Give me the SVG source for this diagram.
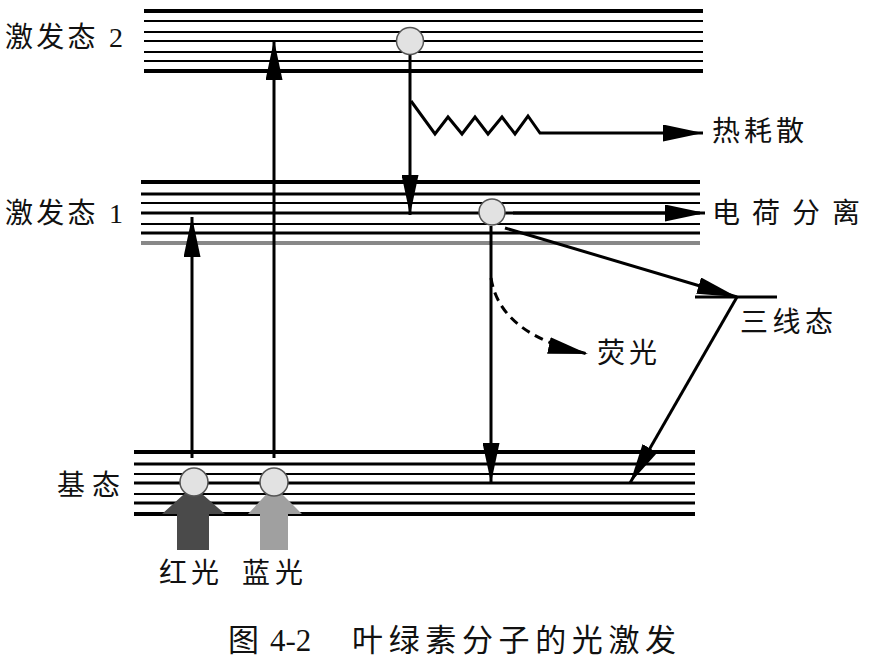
<svg xmlns="http://www.w3.org/2000/svg" width="896" height="666" viewBox="0 0 896 666">
<style>
.t{font-family:"Liberation Serif","Noto Sans CJK SC",serif;fill:#111;font-size:28px}
.cap{font-size:31px}
.thick{stroke:#000;stroke-width:4}
.mid{stroke:#000;stroke-width:3}
.thin{stroke:#000;stroke-width:2}
.conn{stroke:#000;stroke-width:3;fill:none}
.dot{fill:#e2e2e2;stroke:#555;stroke-width:1.5}
</style>
<defs>
<marker id="ah" viewBox="0 0 40 17" refX="40" refY="8.5" markerWidth="40" markerHeight="17" markerUnits="userSpaceOnUse" orient="auto">
<path d="M0,0 L40,8.5 L0,17 z" fill="#000"/>
</marker>
</defs>
<rect width="896" height="666" fill="#fff"/>
<g id="excited2">
<line class="thick" x1="144" y1="11" x2="703" y2="11"/>
<line class="thin" x1="144" y1="21" x2="703" y2="21"/>
<line class="thin" x1="144" y1="32" x2="703" y2="32"/>
<line class="thin" x1="144" y1="41" x2="703" y2="41"/>
<line class="thin" x1="144" y1="52" x2="703" y2="52"/>
<line class="thin" x1="144" y1="61" x2="703" y2="61"/>
<line class="thick" x1="144" y1="71" x2="703" y2="71"/>
<text class="t" x="5" y="47" textLength="118">激发态 2</text>
</g>
<g id="excited1">
<line class="thick" x1="141" y1="182" x2="700" y2="182"/>
<line class="mid" x1="141" y1="194" x2="700" y2="194"/>
<line class="thin" x1="141" y1="203" x2="700" y2="203"/>
<line class="mid" x1="141" y1="213" x2="700" y2="213"/>
<line class="thin" x1="141" y1="224" x2="700" y2="224"/>
<line class="mid" x1="141" y1="233" x2="700" y2="233"/>
<line stroke="#888" stroke-width="4" x1="141" y1="243" x2="700" y2="243"/>
<text class="t" x="5" y="223" textLength="118">激发态 1</text>
</g>
<g id="ground">
<line class="thick" x1="134" y1="452" x2="695" y2="452"/>
<line class="mid" x1="134" y1="464" x2="695" y2="464"/>
<line class="thin" x1="134" y1="474" x2="695" y2="474"/>
<line class="mid" x1="134" y1="483" x2="695" y2="483"/>
<line class="thin" x1="134" y1="494" x2="695" y2="494"/>
<line class="mid" x1="134" y1="503" x2="695" y2="503"/>
<line class="thick" x1="134" y1="514" x2="695" y2="514"/>
<text class="t" x="57" y="495" textLength="63">基态</text>
</g>
<g id="triplet">
<line class="mid" x1="695" y1="297" x2="777" y2="297"/>
<text class="t" x="740" y="332" textLength="93">三线态</text>
</g>
<g id="connectors">
<line class="conn" x1="192" y1="458" x2="192" y2="217" marker-end="url(#ah)"/>
<line class="conn" x1="274" y1="458" x2="274" y2="40" marker-end="url(#ah)"/>
<line class="conn" x1="410" y1="55" x2="410" y2="215" marker-end="url(#ah)"/>
<polyline class="conn" stroke-linejoin="miter" points="411,101 435,134 448,117 462,134 475,117 488,134 502,117 515,134 528,116 540,133 703,133" marker-end="url(#ah)"/>
<line class="conn" x1="513" y1="213" x2="705" y2="213" marker-end="url(#ah)"/>
<line class="conn" x1="491" y1="226" x2="491" y2="483" marker-end="url(#ah)"/>
<line class="conn" x1="505" y1="228" x2="737" y2="297" marker-end="url(#ah)"/>
<line class="conn" x1="737" y1="297" x2="630" y2="483" marker-end="url(#ah)"/>
<path class="conn" d="M491,278 Q500,335 588,354" stroke-dasharray="9,6" marker-end="url(#ah)"/>
</g>
<g id="red-light">
<polygon fill="#4a4a4a" points="193,486 225,514 209,514 209,550 177,550 177,514 162,514"/>
<circle class="dot" cx="194" cy="482" r="14"/>
<text class="t" x="159" y="583" textLength="60">红光</text>
</g>
<g id="blue-light">
<polygon fill="#a0a0a0" points="274,486 302,514 288,514 288,550 260,550 260,514 248,514"/>
<circle class="dot" cx="274" cy="482" r="14"/>
<text class="t" x="242" y="583" textLength="61">蓝光</text>
</g>
<g id="molecule-s2"><circle class="dot" cx="410" cy="41" r="13.5"/></g>
<g id="molecule-s1"><circle class="dot" cx="492" cy="212" r="13"/></g>
<g id="labels">
<text class="t" x="712" y="141" textLength="92">热耗散</text>
<text class="t" x="712" y="223" textLength="148">电荷分离</text>
<text class="t" x="597" y="363" textLength="60">荧光</text>
</g>
<g id="caption">
<text class="t cap" x="228" y="651">图</text>
<text class="t cap" x="270" y="651">4-2</text>
<text class="t cap" x="352" y="651" textLength="324">叶绿素分子的光激发</text>
</g>
</svg>
